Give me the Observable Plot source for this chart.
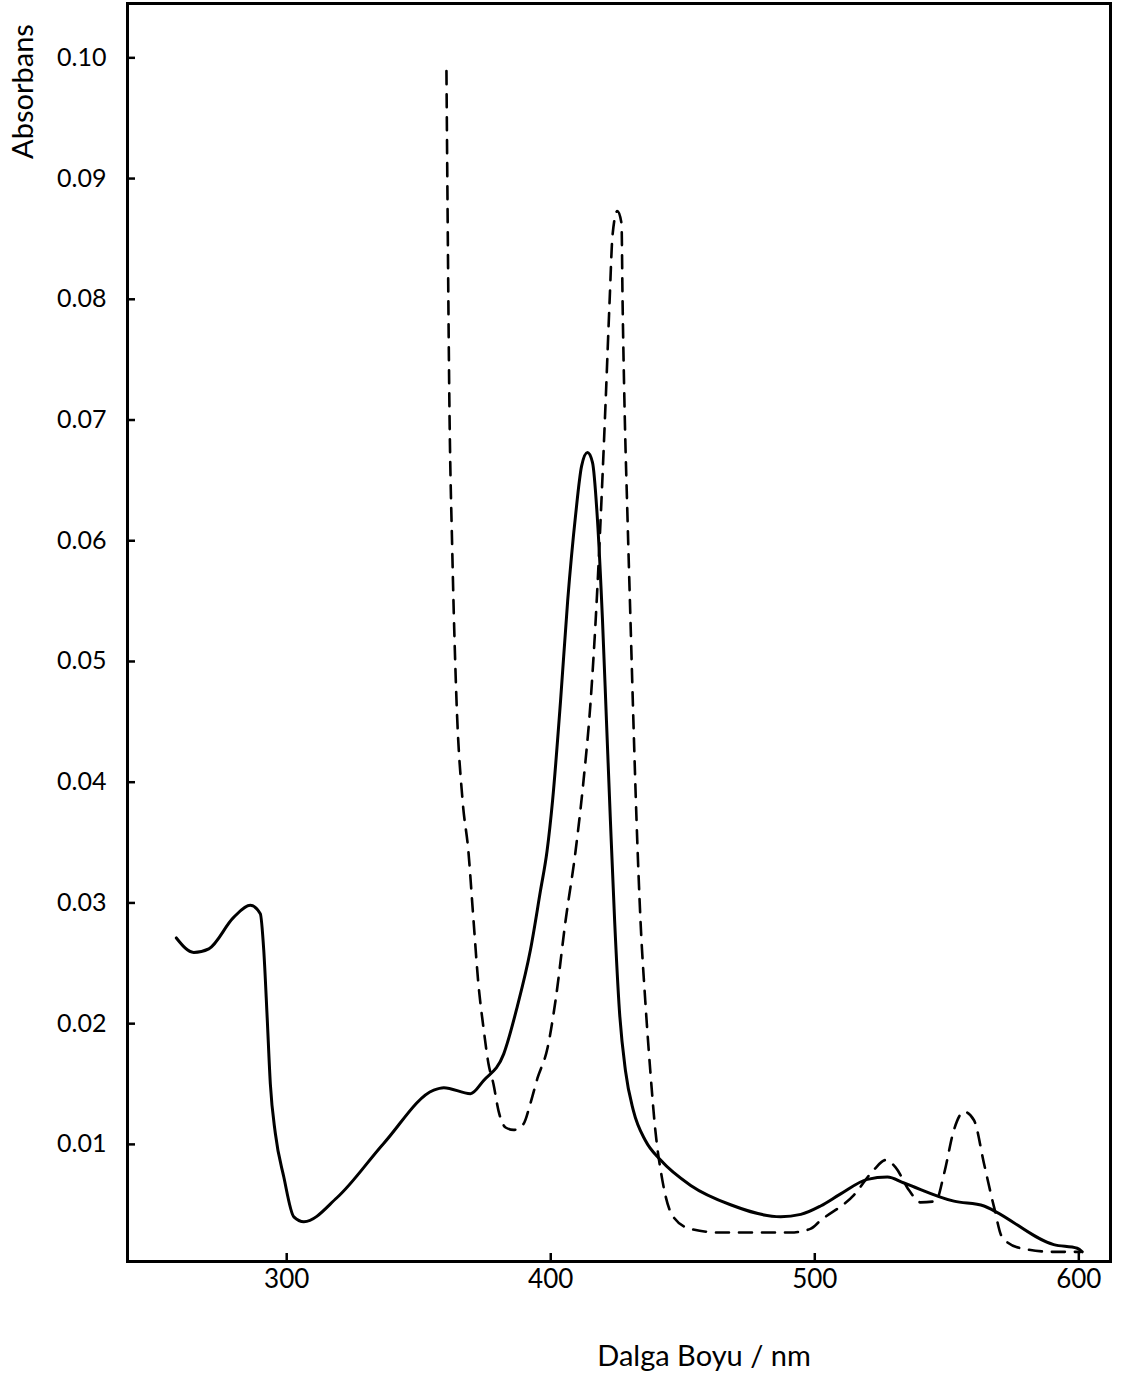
<!DOCTYPE html>
<html>
<head>
<meta charset="utf-8">
<script src="https://cdn.jsdelivr.net/npm/d3@7"></script>
<script src="https://cdn.jsdelivr.net/npm/@observablehq/plot@0.6"></script>
<style>
  html, body { margin: 0; padding: 0; background: #fff; }
  #chart svg { display: block; }
</style>
</head>
<body>
<div id="chart"></div>
<script>
// Absorption spectrum, solid trace
const solidNm = [258.2, 264.8, 270.5, 279.9, 286.2, 290.0, 291.3, 292.6, 293.8, 295.7,
  298.9, 302.7, 306.5, 319.1, 336.8, 355.7, 359.5, 369.6, 374.6, 382.2,
  387.3, 392.3, 396.1, 398.6, 400.7, 403.7, 406.4, 409.4, 411.7, 413.9,
  415.8, 417.7, 419.6, 421.1, 422.6, 424.2, 426.0, 428.3, 431.3, 435.9,
  441.6, 453.0, 468.1, 487.1, 494.7, 502.2, 509.8, 519.9, 527.5, 533.8,
  552.7, 564.1, 567.9, 590.5, 599.4, 601.3];
const solidAbs = [0.0271, 0.0259, 0.0262, 0.0288, 0.0298, 0.0291, 0.0261, 0.0205, 0.0150, 0.0109,
  0.0073, 0.0040, 0.0036, 0.0056, 0.0101, 0.0145, 0.0147, 0.0142, 0.0153, 0.0175,
  0.0214, 0.0261, 0.0310, 0.0343, 0.0385, 0.0467, 0.0550, 0.0621, 0.0662, 0.0673,
  0.0665, 0.0617, 0.0534, 0.0451, 0.0368, 0.0285, 0.0211, 0.0161, 0.0128, 0.0103,
  0.0087, 0.0066, 0.0050, 0.0040, 0.0042, 0.0049, 0.0059, 0.0071, 0.0073, 0.0068,
  0.0053, 0.0049, 0.0045, 0.0017, 0.0014, 0.0011];

// Absorption spectrum, dashed trace
const dashedNm = [360.5, 360.9, 361.6, 362.7, 364.3, 366.6, 368.8, 370.7, 372.6, 374.5,
  376.4, 378.3, 380.2, 382.9, 385.9, 389.7, 392.3, 395.0, 398.8, 401.8,
  405.6, 409.4, 412.4, 415.1, 417.4, 419.2, 420.8, 422.3, 423.4, 425.2,
  426.8, 427.2, 427.9, 429.1, 430.2, 431.3, 432.5, 434.0, 435.8, 437.7,
  439.6, 442.3, 446.1, 452.9, 464.2, 490.8, 498.3, 502.2, 514.8, 522.4,
  526.8, 530.6, 535.7, 540.1, 545.8, 549.0, 552.7, 556.5, 560.3, 564.1,
  567.9, 571.0, 578.0, 590.5, 600.7];
const dashedAbs = [0.0989, 0.0881, 0.0716, 0.0592, 0.0468, 0.0385, 0.0343, 0.0287, 0.0233, 0.0197,
  0.0167, 0.0150, 0.0128, 0.0114, 0.0112, 0.0117, 0.0134, 0.0155, 0.0180, 0.0219,
  0.0285, 0.0343, 0.0401, 0.0467, 0.0550, 0.0633, 0.0716, 0.0799, 0.0853, 0.0873,
  0.0863, 0.0799, 0.0716, 0.0617, 0.0534, 0.0451, 0.0368, 0.0285, 0.0219, 0.0161,
  0.0112, 0.0070, 0.0041, 0.0030, 0.0027, 0.0027, 0.0030, 0.0037, 0.0058, 0.0079,
  0.0087, 0.0081, 0.0062, 0.0052, 0.0053, 0.0076, 0.0112, 0.0127, 0.0120, 0.0084,
  0.0048, 0.0023, 0.0014, 0.0011, 0.0011];

const xTicks = [300, 400, 500, 600];
const yTicks = [0.01, 0.02, 0.03, 0.04, 0.05, 0.06, 0.07, 0.08, 0.09, 0.10];
const xLabel = "Dalga Boyu / nm";
const yLabel = "Absorbans";

const solid = solidNm.map((nm, i) => ({nm, a: solidAbs[i]}));
const dashed = dashedNm.map((nm, i) => ({nm, a: dashedAbs[i]}));

const chart = Plot.plot({
  width: 1122,
  height: 1376,
  marginLeft: 127,
  marginRight: 12,
  marginTop: 3,
  marginBottom: 115,
  style: {fontFamily: "Lato, 'Noto Sans', sans-serif", color: "#000", background: "#fff"},
  x: {domain: [239.7, 612]},
  y: {domain: [0.0003, 0.1045]},
  marks: [
    Plot.frame({stroke: "#000", strokeWidth: 3}),
    Plot.axisX(xTicks, {anchor: "bottom", tickSize: -8, tickPadding: 16, strokeWidth: 2.5,
      fontSize: 26, label: null}),
    Plot.axisY(yTicks, {anchor: "left", tickSize: -8, tickPadding: 29, strokeWidth: 2.5,
      fontSize: 25, label: null, tickFormat: d3.format(".2f")}),
    Plot.line(solid, {x: "nm", y: "a", curve: "monotone-x", stroke: "#000", strokeWidth: 3}),
    Plot.line(dashed, {x: "nm", y: "a", curve: "monotone-x", stroke: "#000", strokeWidth: 2.6,
      strokeDasharray: "13,10"}),
    // axis titles, placed relative to the frame
    Plot.text([yLabel], {frameAnchor: "top-left", textAnchor: "middle", lineAnchor: "middle",
      rotate: -90, dx: -104, dy: 88, fontSize: 29}),
    Plot.text([xLabel], {frameAnchor: "bottom", textAnchor: "middle", lineAnchor: "middle",
      dx: 85, dy: 95, fontSize: 29})
  ]
});

document.getElementById("chart").append(chart);
</script>
</body>
</html>
